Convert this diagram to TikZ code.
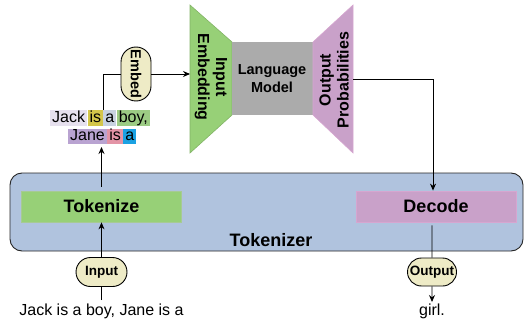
\documentclass[tikz,border=0pt]{standalone}
\usepackage{fontspec}
\setmainfont{Liberation Sans}
\usetikzlibrary{arrows.meta,shapes.misc}
\definecolor{gfill}{HTML}{97D077}
\definecolor{gline}{HTML}{82B366}
\definecolor{pfill}{HTML}{C9A1C9}
\definecolor{pline}{HTML}{D6A6D0}
\definecolor{grayfill}{HTML}{ABABAB}
\definecolor{bluefill}{HTML}{B0C3DE}
\definecolor{pillfill}{HTML}{EEEBC6}
\definecolor{cjack}{HTML}{E6E0EE}
\definecolor{cis}{HTML}{D4C64A}
\definecolor{ca}{HTML}{C8D2E0}
\definecolor{cboy}{HTML}{9CCB84}
\definecolor{cjane}{HTML}{B9A3D1}
\definecolor{cis2}{HTML}{E394A6}
\definecolor{ca2}{HTML}{1BA1E2}
\tikzset{
  arr/.style={draw=black, line width=0.9pt, -{Stealth[length=7pt,width=6pt]}},
  ln/.style={draw=black, line width=0.9pt},
  pill/.style={rounded rectangle, draw=black, line width=0.9pt, fill=pillfill, inner sep=2pt, font=\bfseries\fontsize{13.5}{15}\selectfont},
  tok/.style={inner xsep=2pt, inner ysep=0pt, text height=11.8pt, text depth=3.4pt, anchor=west, font=\fontsize{16}{18}\selectfont},
  lbl/.style={font=\bfseries\fontsize{16}{18}\selectfont, align=center},
  bigbox/.style={minimum width=160pt, minimum height=31pt, line width=0.8pt, font=\bfseries\fontsize{18}{20}\selectfont}
}
\begin{document}
\begin{tikzpicture}[x=1pt,y=-1pt]
\useasboundingbox (0,0) rectangle (526,323);
% tokenizer container
\node[draw=black!85, line width=0.9pt, fill=bluefill, rounded corners=12pt, minimum width=513pt, minimum height=78pt] (tokenizer) at (266.5,212) {};
\node[font=\bfseries\fontsize{18}{20}\selectfont] (tokenizerlbl) at (271,240) {Tokenizer};
\node[bigbox, draw=gline!70, fill=gfill] (tokenize) at (101.5,206.5) {Tokenize};
\node[bigbox, draw=pline, fill=pfill] (decode) at (436,206.5) {Decode};
% trapezoids
\fill[gfill] (190,5) -- (232,42) -- (232,115) -- (190,153) -- cycle;
\draw[gline, line width=0.6pt] (190,5) -- (232,42) -- (232,115) -- (190,153) -- cycle;
\fill[grayfill] (232,42) rectangle (313,115);
\fill[pfill] (313,42) -- (353,5) -- (353,153) -- (313,115) -- cycle;
\draw[pline, line width=0.6pt] (313,42) -- (353,5) -- (353,153) -- (313,115) -- cycle;
\coordinate (ieL) at (190,74);
\coordinate (opR) at (353,79);
\node[lbl, rotate=-90] (ie) at (211,77) {Input\\Embedding};
\node[lbl, font=\bfseries\fontsize{14.5}{18}\selectfont] (lm) at (272,79) {Language\\Model};
\node[lbl, rotate=90] (op) at (334,80) {Output\\Probabilities};
% tokens
\node[tok, fill=cjack] (t1) at (50,118) {Jack};
\node[tok, fill=cis] (t2) at (t1.east) {is};
\node[tok, fill=ca] (t3) at (t2.east) {a};
\node[tok, fill=cboy] (t4) at (t3.east) {boy,};
\node[tok, fill=cjane] (t5) at (68,136.5) {Jane};
\node[tok, fill=cis2] (t6) at (t5.east) {is};
\node[tok, fill=ca2] (t7) at (t6.east) {a};
\coordinate (tokarr) at (101.5,147);
% embed pill
\node[pill, rotate=-90, minimum width=58pt, minimum height=30pt, font=\bfseries\fontsize{14.5}{16}\selectfont] (embed) at (136,74) {Embed};
% bottom texts and pills
\node[font=\fontsize{16}{18}\selectfont] (intext) at (101.5,311) {Jack is a boy, Jane is a};
\node[font=\fontsize{16}{18}\selectfont] (outtext) at (432,311) {girl.};
\node[pill, minimum width=55pt, minimum height=29pt] (inpill) at (101.5,272) {Input};
\node[pill, minimum width=53pt, minimum height=28pt] (outpill) at (432,272) {Output};
% connectors
\draw[ln] (intext) -- (inpill);
\draw[arr] (inpill) -- (tokenize);
\draw[arr, shorten <=4pt] (tokenize.north) -- (tokarr);
\draw[ln] (t2.north east) |- (embed);
\draw[arr] (embed) -- (ieL);
\draw[arr] (opR) -| ([xshift=-3pt]decode.north);
\draw[ln, shorten <=3pt] ([xshift=-4pt]decode.south) -- (outpill);
\draw[arr] (outpill) -- ([yshift=-2pt]outtext.north);
\end{tikzpicture}
\end{document}
